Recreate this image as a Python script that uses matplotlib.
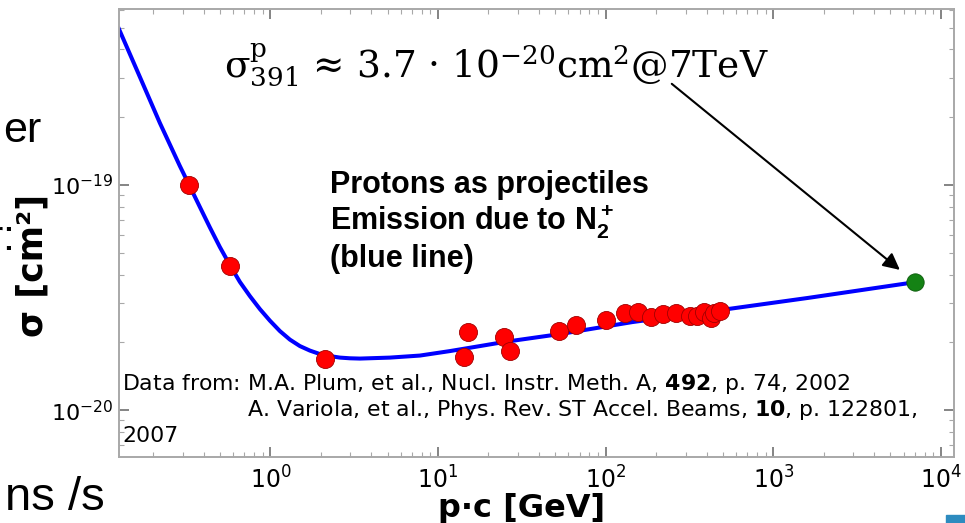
import matplotlib
matplotlib.use("Agg")
import matplotlib.pyplot as plt
from matplotlib.patches import Rectangle
from matplotlib.ticker import LogLocator, NullFormatter

plt.rcParams['font.family'] = ['DejaVu Sans']
plt.rcParams['mathtext.fontset'] = 'custom'
plt.rcParams['mathtext.rm'] = 'Liberation Sans:bold'
plt.rcParams['mathtext.it'] = 'Liberation Sans:bold'
plt.rcParams['mathtext.bf'] = 'Liberation Sans:bold'

# fit curve (blue line)
curve_pc = [0.1248, 0.1665, 0.2191, 0.2884, 0.3309, 0.3797, 0.4355, 0.4996, 0.5734,
            0.6577, 0.7545, 0.8659, 0.9932, 1.139, 1.307, 1.500, 1.721, 1.974, 2.265,
            2.598, 2.981, 3.420, 5.164, 7.80, 11.78, 17.78, 25.1, 54.1, 144, 481,
            1610, 7000]
curve_sigma = [4.94e-19, 3.02e-19, 1.886e-19, 1.214e-19, 9.85e-20, 7.98e-20, 6.48e-20,
               5.30e-20, 4.41e-20, 3.71e-20, 3.21e-20, 2.81e-20, 2.497e-20, 2.245e-20,
               2.057e-20, 1.925e-20, 1.838e-20, 1.774e-20, 1.738e-20, 1.711e-20,
               1.699e-20, 1.694e-20, 1.711e-20, 1.747e-20, 1.829e-20, 1.925e-20,
               2.01e-20, 2.18e-20, 2.46e-20, 2.78e-20, 3.15e-20, 3.7e-20]

# measured points (red)
data_pc = [0.326, 0.573, 2.13, 14.3, 15.0, 24.7, 26.9, 52.9, 66.9, 100, 131, 157,
           186, 221, 264, 318, 350, 386, 425, 446, 480]
data_sigma = [1.0e-19, 4.36e-20, 1.69e-20, 1.72e-20, 2.22e-20, 2.12e-20, 1.83e-20,
              2.25e-20, 2.39e-20, 2.52e-20, 2.69e-20, 2.74e-20, 2.59e-20, 2.66e-20,
              2.70e-20, 2.62e-20, 2.61e-20, 2.74e-20, 2.56e-20, 2.70e-20, 2.76e-20]

# LHC point (green)
lhc_pc = [7000]
lhc_sigma = [3.7e-20]

W, H = 965, 523
fig = plt.figure(figsize=(W / 100, H / 100), dpi=100)
ax = fig.add_axes([119 / W, 1 - 457 / H, (954 - 119) / W, (457 - 9) / H])

ax.plot(curve_pc, curve_sigma, color='#0000ff', lw=2.9, zorder=2,
        solid_joinstyle='round')
ax.plot(data_pc, data_sigma, 'o', color='#ff0000', mec='#a00000', mew=0.6, ms=13, zorder=3)
ax.plot(lhc_pc, lhc_sigma, 'o', color='#148214', mec='#0a5a0a', mew=0.6, ms=12.5, zorder=3)

ax.set_xscale('log')
ax.set_yscale('log')
ax.set_xlim(0.125, 11970)
ax.set_ylim(6.19e-21, 6.05e-19)

gray = '#a8a8a8'
for s in ax.spines.values():
    s.set_color(gray)
    s.set_linewidth(1.4)
ax.xaxis.set_major_locator(LogLocator(base=10, numticks=10))
ax.xaxis.set_minor_locator(LogLocator(base=10, subs=range(2, 10), numticks=20))
ax.yaxis.set_minor_locator(LogLocator(base=10, subs=range(2, 10), numticks=20))
ax.xaxis.set_minor_formatter(NullFormatter())
ax.yaxis.set_minor_formatter(NullFormatter())
ax.tick_params(which='both', direction='in', top=True, right=True, color=gray)
ax.tick_params(which='major', length=7, width=1.2, color='#707070')
ax.tick_params(which='minor', length=3.5, width=0.8)
ax.tick_params(axis='x', which='major', labelsize=17, pad=7)
ax.tick_params(axis='y', which='major', labelsize=16, pad=4)

# axis titles
fig.text(522 / W, 1 - 508 / H, 'p·c [GeV]', fontsize=23, fontweight='bold',
         ha='center', va='center')
fig.text(33 / W, 1 - 265 / H, 'σ [cm²]', fontsize=25, fontweight='bold',
         rotation=90, ha='center', va='center')

# annotation with arrow to the 7 TeV point
ax.text(0.4515, 0.875, r'σ$^{\mathrm{p}}_{391}$ ≈ 3.7 · 10$^{-20}$cm$^{2}$@7TeV',
        transform=ax.transAxes, ha='center', va='center', fontsize=27,
        family='DejaVu Serif', math_fontfamily='dejavuserif')
ax.annotate('', xy=(lhc_pc[0], lhc_sigma[0]), xycoords='data',
            xytext=(0.662, 0.833), textcoords='axes fraction',
            arrowprops=dict(arrowstyle='-|>', color='black', lw=1.5,
                            mutation_scale=25, shrinkA=0, shrinkB=14))

# bold description
bold_lines = ['Protons as projectiles', r'Emission due to N$_2^+$', '(blue line)']
for i, txt in enumerate(bold_lines):
    fig.text(330 / W, 1 - (193 + 37 * i) / H, txt, fontsize=22, fontweight='bold',
             family='Liberation Sans', math_fontfamily='custom', va='baseline')

# data reference
fs = 15.8
fig.text(122 / W, 1 - 390 / H,
         r'Data from: M.A. Plum, et al., Nucl. Instr. Meth. A, $\mathbf{492}$, p. 74, 2002',
         fontsize=fs, va='baseline', math_fontfamily='dejavusans')
fig.text(918 / W, 1 - 416 / H,
         r'A. Variola, et al., Phys. Rev. ST Accel. Beams, $\mathbf{10}$, p. 122801,',
         fontsize=fs, va='baseline', ha='right', math_fontfamily='dejavusans')
fig.text(122 / W, 1 - 442 / H, '2007', fontsize=fs, va='baseline')

# fragments of surrounding slide text
fig.text(41 / W, 1 - 142 / H, 'er', fontsize=31, family='Liberation Sans', ha='right', va='baseline')
fig.text(2 / W, 1 - 250 / H, 'r', fontsize=31, family='Liberation Sans', ha='right', va='baseline')
fig.text(2 / W, 1 - 250 / H, ':', fontsize=31, family='Liberation Sans', ha='left', va='baseline')
fig.text(105 / W, 1 - 510 / H, 'ns /s', fontsize=34, family='Liberation Sans', ha='right', va='baseline')
fig.patches.append(Rectangle((946 / W, 0), 19 / W, 8 / H, transform=fig.transFigure,
                             color='#2d8bbf', zorder=5))

fig.savefig('out.png', dpi=100)
